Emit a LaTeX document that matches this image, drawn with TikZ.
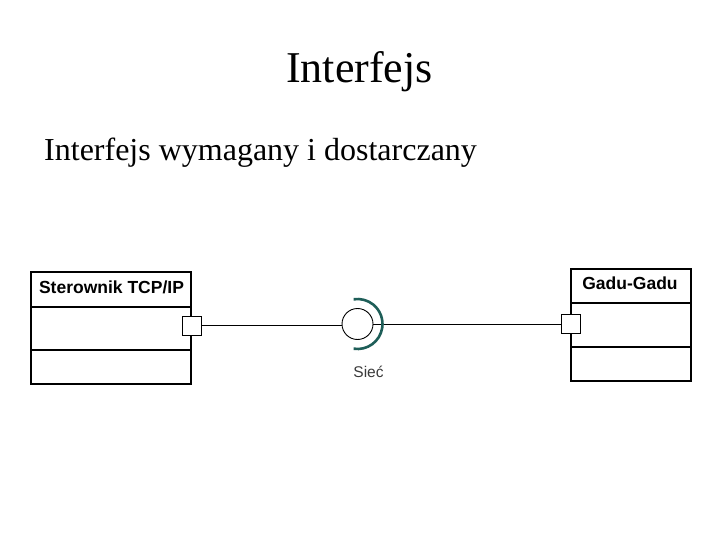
\documentclass[tikz,border=0pt]{standalone}
\usepackage{fontspec}
\setmainfont{Liberation Serif}
\newfontfamily\uifont{Liberation Sans}
\definecolor{arcteal}{HTML}{1E5E58}
\definecolor{labelgray}{HTML}{3A3A3A}
\begin{document}
\begin{tikzpicture}[x=1pt,y=-1pt,
  classbox/.style={draw=black,line width=1.8pt},
  sepline/.style={draw=black,line width=1.4pt},
  portbox/.style={draw=black,fill=white,line width=0.9pt,minimum width=19pt,minimum height=19pt,inner sep=0pt},
  conn/.style={draw=black,line width=0.9pt},
  classname/.style={font=\uifont\bfseries\fontsize{17.5}{17.5}\selectfont,anchor=base,inner sep=0pt},
]
\useasboundingbox (0,0) rectangle (720,540);
% titles
\node[anchor=base,inner sep=0pt,font=\fontsize{44}{44}\selectfont] (title) at (359.5,83) {Interfejs};
\node[anchor=base west,inner sep=0pt,font=\fontsize{32}{32}\selectfont] (sub) at (44,161) {Interfejs wymagany i dostarczany};
% left class
\draw[classbox] (31,272) rectangle (191,384);
\draw[sepline] (31,307) -- (191,307);
\draw[sepline] (31,350) -- (191,350);
\node[classname] (lname) at (111.5,293) {Sterownik TCP/IP};
% right class
\draw[classbox] (571,269) rectangle (691,381);
\draw[sepline] (571,303) -- (691,303);
\draw[sepline] (571,347) -- (691,347);
\node[classname] (rname) at (630,289) {Gadu-Gadu};
% ports
\node[portbox] (lport) at (191.5,325.5) {};
\node[portbox] (rport) at (571,324) {};
% interface
\node[circle,draw=black,line width=0.9pt,minimum size=31pt,inner sep=0pt] (iface) at (357.5,324) {};
\draw[conn] (lport.east) -- (lport.east -| iface.west);
\draw[conn] (rport.west) -- (rport.west -| iface.east);
\draw[arcteal,line width=2.6pt] ([shift={(99:25)}]iface.center) arc[start angle=99,end angle=-99,radius=25];
\node[anchor=base,inner sep=0pt,text=labelgray,font=\uifont\fontsize{15.5}{15.5}\selectfont] (siec) at (368.5,377) {Sieć};
\end{tikzpicture}
\end{document}
